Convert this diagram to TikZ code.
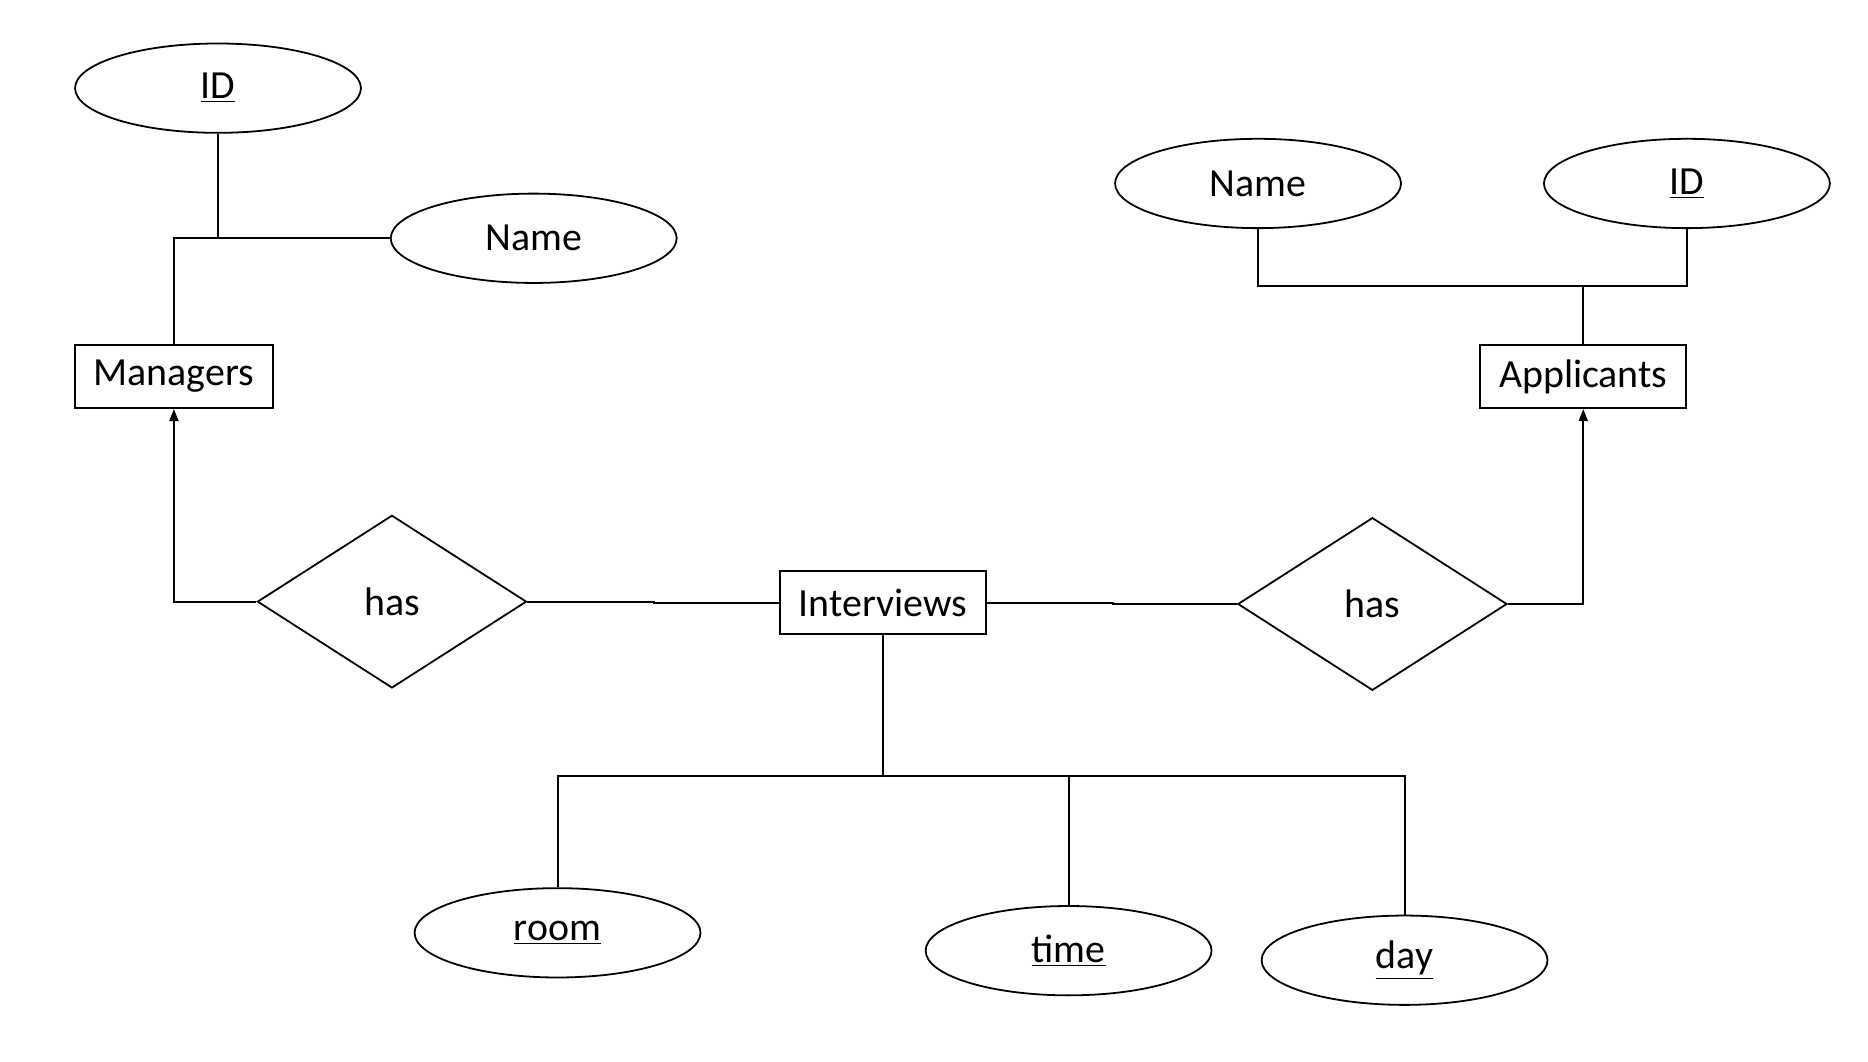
\documentclass[tikz,border=0pt]{standalone}
\usepackage{fontspec}
\setmainfont{Carlito}
\usetikzlibrary{positioning, arrows.meta, shapes.geometric}

\begin{document}
\begin{tikzpicture}[x=0.5975pt, y=-0.5975pt,
      attribut/.style={draw, ellipse, inner sep=0pt, line width=0.9pt,
                       minimum width=143.4pt, minimum height=44.8pt,
                       font=\fontsize{20}{24}\selectfont},
      entite/.style={draw, rectangle, inner sep=0pt, line width=1pt,
                     minimum height=31.7pt,
                     font=\fontsize{20}{24}\selectfont},
      relation/.style={draw, diamond, inner sep=0pt, aspect=1.56,
                       line width=0.9pt,
                       minimum width=135pt, minimum height=86.6pt,
                       font=\fontsize{20}{24}\selectfont},
      lien/.style={line width=1pt},
      fleche/.style={lien, -{Triangle[length=6pt, width=4.5pt]}}]
    \useasboundingbox (0,0) rectangle (1568,891);
    % entities
    \node[entite, minimum width=99.2pt]  (mgr)  at (146,316)  {Managers};
    \node[entite, minimum width=103.4pt] (app)  at (1329,316) {Applicants};
    \node[entite, minimum width=103.4pt] (intv) at (741,506)  {Interviews};
    % relations
    \node[relation] (hasM) at (329,505) {has};
    \node[relation] (hasA) at (1152,507) {has};
    % attributes
    \node[attribut] (idM)   at (183,74)   {\underline{ID}};
    \node[attribut] (nameM) at (448,200)  {Name};
    \node[attribut] (nameA) at (1056,154) {Name};
    \node[attribut] (idA)   at (1416,154) {\underline{ID}};
    \node[attribut] (room)  at (468,783)  {\underline{room}};
    \node[attribut] (time)  at (897,798)  {\underline{time}};
    \node[attribut] (day)   at (1179,806) {\underline{day}};
    % joints
    \coordinate (jM)    at (183,200);
    \coordinate (jA)    at (1329,240);
    \coordinate (jI)    at (741,651);
    \coordinate (kinkL) at (549,507);
    \coordinate (kinkR) at (934,507);
    % links
    \draw[lien] (idM) -- (jM);
    \draw[lien] (nameM) -- (mgr.north |- jM) -- (mgr);
    \draw[fleche] (hasM.west) -| (mgr.south);
    \draw[lien] (hasM.east) -| (kinkL) |- (intv.west);
    \draw[lien] (intv.east) -| (kinkR) |- (hasA.west);
    \draw[fleche] (hasA.east) -| (app.south);
    \draw[lien] (nameA.south) |- (jA) -| (idA.south);
    \draw[lien] (jA) -- (app);
    \draw[lien] (intv) -- (jI);
    \draw[lien] (room.north) |- (jI) -| (day.north);
    \draw[lien] (time.north) -- (time.north |- jI);
\end{tikzpicture}
\end{document}
